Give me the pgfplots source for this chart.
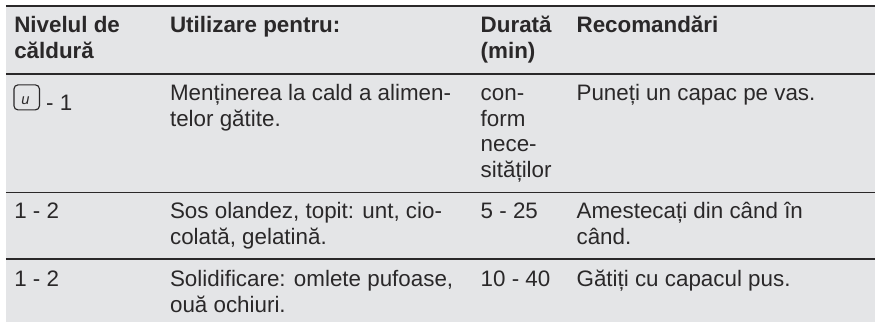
\documentclass[border=0pt]{standalone}
\usepackage{fontspec}
\setmainfont{Liberation Sans}
\usepackage{pgfplots}
\pgfplotsset{compat=1.18}
\definecolor{bg}{HTML}{E4E5E7}
\definecolor{ink}{HTML}{2A2829}
\newcommand{\T}[3]{\node[anchor=base west,inner sep=0pt,text=ink,font=\fontsize{16.8pt}{20pt}\selectfont] at (axis cs:#1,#2) {#3};}
\newcommand{\B}[3]{\node[anchor=base west,inner sep=0pt,text=ink,font=\fontsize{16.8pt}{20pt}\selectfont\bfseries] at (axis cs:#1,#2) {#3};}
\begin{document}
\begin{tikzpicture}
\begin{axis}[x=0.75pt,y=0.75pt,xmin=0,xmax=876,ymin=0,ymax=322,y dir=reverse,hide axis,clip=false,scale only axis]
\addplot[draw=none,fill=white,forget plot] coordinates {(0,0)(876,0)(876,322)(0,322)} -- cycle;
\addplot[draw=none,fill=bg,forget plot] coordinates {(6,6)(876,6)(876,322)(6,322)} -- cycle;
\addplot[ink,line width=1.5pt,forget plot] coordinates {(6,6)(876,6)};
\addplot[ink,line width=1.1pt,forget plot] coordinates {(6,74)(876,74)};
\addplot[ink,line width=1.1pt,forget plot] coordinates {(6,192.5)(876,192.5)};
\addplot[ink,line width=1.1pt,forget plot] coordinates {(6,259.5)(876,259.5)};
\B{14}{33}{Nivelul de}
\B{14}{59}{căldură}
\B{170}{33}{Utilizare pentru:}
\B{481}{33}{Durată}
\B{481}{59}{(min)}
\B{577}{33}{Recomandări}
\draw[ink,line width=0.85pt,rounded corners=3pt] (axis cs:14,85) rectangle (axis cs:39.5,110);
\node[text=ink,inner sep=0pt,font=\fontsize{11pt}{12pt}\selectfont\itshape] at (axis cs:25.5,100.5) {u};
\T{46}{111}{- 1}
\T{170}{101}{Menținerea la cald a alimen-}
\T{170}{126.5}{telor gătite.}
\T{481}{101}{con-}
\T{481}{126.5}{form}
\T{481}{152}{nece-}
\T{481}{177.5}{sităților}
\T{577}{101}{Puneți un capac pe vas.}
\T{14}{219}{1 - 2}
\T{170}{219}{Sos olandez, topit: unt, cio-}
\T{170}{244.5}{colată, gelatină.}
\T{481}{219}{5 - 25}
\T{577}{219}{Amestecați din când în}
\T{577}{244.5}{când.}
\T{14}{287}{1 - 2}
\T{170}{287}{Solidificare: omlete pufoase,}
\T{170}{312.5}{ouă ochiuri.}
\T{481}{287}{10 - 40}
\T{577}{287}{Gătiți cu capacul pus.}
\end{axis}
\end{tikzpicture}
\end{document}
